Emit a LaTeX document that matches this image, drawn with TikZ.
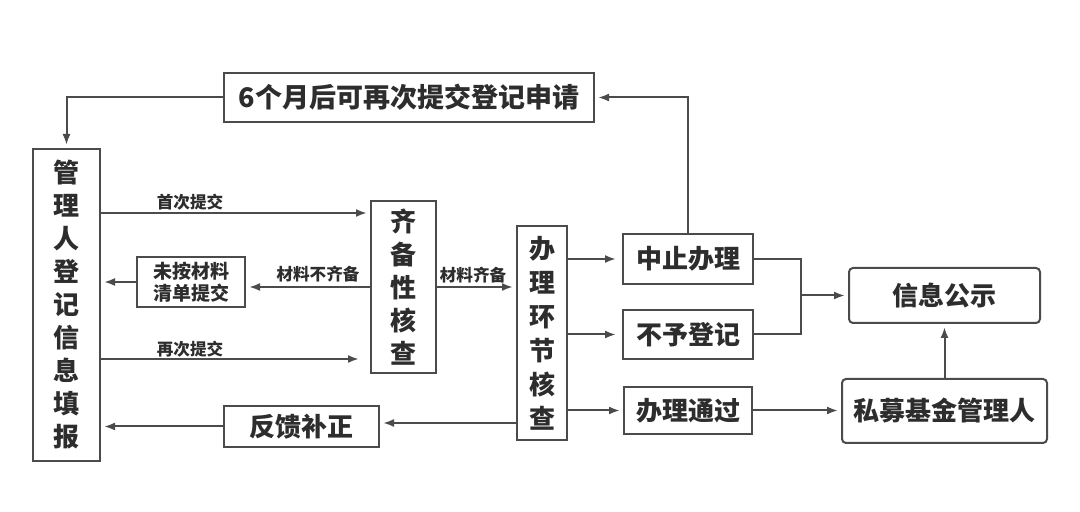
\documentclass[tikz,border=0pt]{standalone}
\usepackage{fontspec}
\setmainfont{Noto Sans CJK SC}
\usetikzlibrary{arrows.meta}
\usetikzlibrary{positioning}
\definecolor{linegray}{RGB}{75,75,75}
\definecolor{textgray}{RGB}{45,45,45}

\begin{document}
\begin{tikzpicture}[x=0.5pt,y=-0.5pt,
  box/.style={draw=linegray,line width=1pt,text=textgray,inner sep=0pt,align=center,
    font=\bfseries\fontsize{13}{16.5}\selectfont},
  lbl/.style={text=textgray,inner sep=0pt,font=\bfseries\fontsize{8.3}{10}\selectfont},
  arr/.style={draw=linegray,line width=1pt,-{Latex[length=5.5pt,width=4pt]},shorten >=1.5pt},
  ln/.style={draw=linegray,line width=1pt}]
\useasboundingbox (0,0) rectangle (1080,512);

% boxes
\node[box,minimum width=185pt,minimum height=24.5pt,font=\bfseries\fontsize{13.5}{16}\selectfont] (again) at (409,97.5) {6个月后可再次提交登记申请};
\node[box,minimum width=33.5pt,minimum height=156pt] (fill) at (66.5,305) {管\\理\\人\\登\\记\\信\\息\\填\\报};
\node[box,minimum width=32.5pt,minimum height=86pt] (check) at (403.5,287) {齐\\备\\性\\核\\查};
\node[box,minimum width=54pt,minimum height=25pt,font=\bfseries\fontsize{9.5}{11}\selectfont] (list) at (191,282) {未按材料\\清单提交};
\node[box,minimum width=77.5pt,minimum height=20.5pt] (fix) at (301.5,426.5) {反馈补正};
\node[box,minimum width=25pt,minimum height=107pt,font=\bfseries\fontsize{13}{17}\selectfont] (handle) at (542,333) {办\\理\\环\\节\\核\\查};
\node[box,minimum width=65pt,minimum height=25pt] (stop) at (688,259) {中止办理};
\node[box,minimum width=65pt,minimum height=24.5pt] (deny) at (688,334.5) {不予登记};
\node[box,minimum width=64pt,minimum height=23.5pt] (pass) at (688,410.5) {办理通过};
\node[box,rounded corners=2pt,minimum width=95.5pt,minimum height=27.5pt] (notice) at (944.5,295.5) {信息公示};
\node[box,rounded corners=2pt,minimum width=102.5pt,minimum height=32pt] (fund) at (944.5,411) {私募基金管理人};

% labels
\node[lbl] (l1) at (190,202) {首次提交};
\node[lbl] (l2) at (318,274) {材料不齐备};
\node[lbl] (l3) at (190,349) {再次提交};
\node[lbl] (l4) at (473,275) {材料齐备};

% connectors
\coordinate (y1) at (0,213);
\coordinate (y2) at (0,359);
\coordinate (y3) at (0,423);
\coordinate (mid) at (801,295.5);
\draw[arr] (again.west) -| (fill.north);
\draw[arr] (fill.east |- y1) -- (check.west |- y1);
\draw[arr] (check.west) -- (list.east |- check.west);
\draw[arr] (list.west) -- (fill.east |- list.west);
\draw[arr,shorten >=5.5pt] (fill.east |- y2) -- (check.west |- y2);
\draw[arr] (check.east) -- (handle.west |- check.east);
\draw[arr] (handle.west |- y3) -- (fix.east |- y3);
\draw[arr] (fix.west) -- (fill.east |- fix.west);
\draw[arr,shorten >=3pt] (handle.east |- stop.west) -- (stop.west);
\draw[arr,shorten >=3pt] (handle.east |- deny.west) -- (deny.west);
\draw[arr] (handle.east |- pass.west) -- (pass.west);
\draw[arr] (stop.north) |- (again.east);
\draw[ln] (stop.east) -| (mid) |- (deny.east);
\draw[arr] (mid) -- (notice.west);
\draw[arr] (pass.east) -- (fund.west |- pass.east);
\draw[arr] (fund.north) -- (notice.south);

\end{tikzpicture}
\end{document}
